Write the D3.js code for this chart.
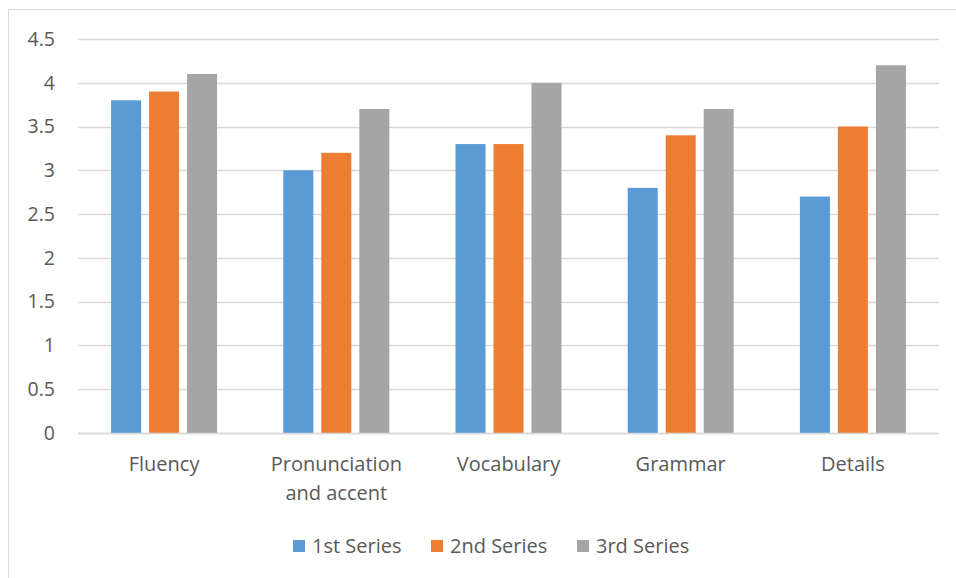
<!DOCTYPE html>
<html>
<head>
<meta charset="utf-8">
<script src="https://cdn.jsdelivr.net/npm/d3@7"></script>
<style>
  body { margin: 0; background: #fff; }
  text { font-family: "Open Sans", "Noto Sans", sans-serif; fill: #595959; }
</style>
</head>
<body>
<svg width="956" height="578"></svg>
<script>
var categories = ["Fluency", "Pronunciation and accent", "Vocabulary", "Grammar", "Details"];
var seriesNames = ["1st Series", "2nd Series", "3rd Series"];
var series1 = [3.8, 3.0, 3.3, 2.8, 2.7];
var series2 = [3.9, 3.2, 3.3, 3.4, 3.5];
var series3 = [4.1, 3.7, 4.0, 3.7, 4.2];
var yTicks = [0, 0.5, 1, 1.5, 2, 2.5, 3, 3.5, 4, 4.5];
var colors = ["#5b9bd5", "#ed7d31", "#a5a5a5"];

var values = [series1, series2, series3];

var svg = d3.select("svg");

// chart border
svg.append("rect")
  .attr("x", 8.5).attr("y", 9.5)
  .attr("width", 960).attr("height", 580)
  .attr("fill", "none")
  .attr("stroke", "#d9d9d9");

var plotLeft = 78, plotRight = 939, plotTop = 39, plotBottom = 433;

var x0 = d3.scaleBand().domain(categories).range([plotLeft, plotRight]).padding(0);
var x1 = d3.scaleBand().domain(seriesNames).range([-53, 53]).paddingInner(0.21);
var y = d3.scaleLinear().domain([0, 4.5]).range([plotBottom, plotTop]);

// gridlines
svg.append("g")
  .selectAll("line")
  .data(yTicks)
  .enter().append("line")
  .attr("x1", plotLeft).attr("x2", plotRight)
  .attr("y1", function(d) { return Math.round(y(d)) + 0.5; })
  .attr("y2", function(d) { return Math.round(y(d)) + 0.5; })
  .attr("stroke", "#d9d9d9")
  .attr("stroke-width", 1.3);

// y labels
svg.append("g")
  .selectAll("text")
  .data(yTicks)
  .enter().append("text")
  .attr("x", 55)
  .attr("y", function(d) { return y(d); })
  .attr("dy", "0.35em")
  .attr("text-anchor", "end")
  .style("font-size", "19.5px")
  .text(function(d) { return d; });

// bars
var groups = svg.append("g")
  .selectAll("g")
  .data(categories)
  .enter().append("g")
  .attr("transform", function(d) { return "translate(" + (x0(d) + x0.bandwidth() / 2) + ",0)"; });

groups.selectAll("rect")
  .data(function(d, i) {
    return seriesNames.map(function(s, j) { return { s: s, v: values[j][i], j: j }; });
  })
  .enter().append("rect")
  .attr("x", function(d) { return x1(d.s); })
  .attr("width", x1.bandwidth())
  .attr("y", function(d) { return y(d.v); })
  .attr("height", function(d) { return plotBottom - y(d.v); })
  .attr("fill", function(d) { return colors[d.j]; });

// baseline
svg.append("line")
  .attr("x1", plotLeft).attr("x2", plotRight)
  .attr("y1", plotBottom + 0.5).attr("y2", plotBottom + 0.5)
  .attr("stroke", "#d9d9d9")
  .attr("stroke-width", 1.3);

// x labels
var xl = svg.append("g")
  .selectAll("text")
  .data(categories)
  .enter().append("text")
  .attr("x", function(d) { return x0(d) + x0.bandwidth() / 2; })
  .attr("y", 471)
  .attr("text-anchor", "middle")
  .style("font-size", "20px");

xl.each(function(d) {
  var t = d3.select(this);
  var lines = d === "Pronunciation and accent" ? ["Pronunciation", "and accent"] : [d];
  lines.forEach(function(l, i) {
    t.append("tspan")
      .attr("x", t.attr("x"))
      .attr("dy", i === 0 ? 0 : 29)
      .text(l);
  });
});

// legend
var legendX = [293, 431, 577];
var legend = svg.append("g")
  .selectAll("g")
  .data(seriesNames)
  .enter().append("g")
  .attr("transform", function(d, i) { return "translate(" + legendX[i] + ",540)"; });

legend.append("rect")
  .attr("width", 12).attr("height", 12)
  .attr("fill", function(d, i) { return colors[i]; });

legend.append("text")
  .attr("x", 19).attr("y", 6)
  .attr("dy", "0.35em")
  .style("font-size", "20px")
  .text(function(d) { return d; });
</script>
</body>
</html>
